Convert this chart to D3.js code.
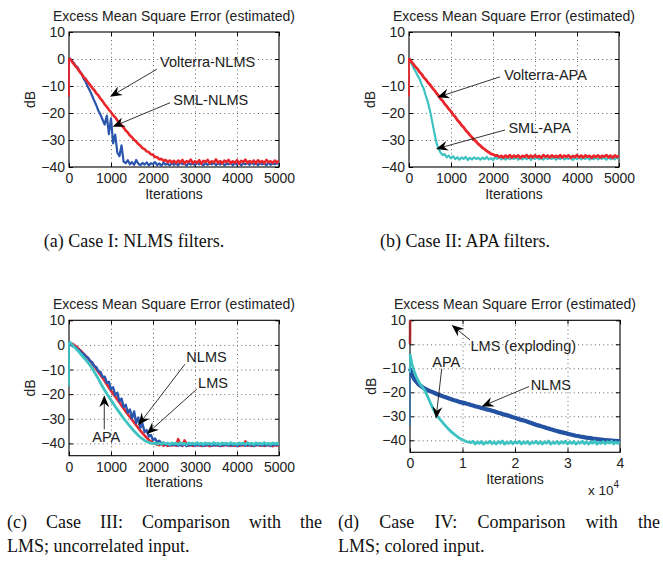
<!DOCTYPE html>
<html><head><meta charset="utf-8">
<script src="https://cdn.jsdelivr.net/npm/d3@7"></script>
<style>body{margin:0;background:#fff}svg{display:block}</style>
</head><body>
<svg id="chart" width="663" height="566"></svg>
<script>
// ---------------- DATA ----------------
// sample iterations (first entry is the initial sample at iteration 0)
const iterA = [0].concat(d3.range(0, 5001, 50));
const iterD = [0].concat(d3.range(0, 40001, 400));
const xTicks5000 = [0, 1000, 2000, 3000, 4000, 5000];
const xTicks4e4 = [0, 10000, 20000, 30000, 40000];
const xTickLabels4e4 = ["0", "1", "2", "3", "4"];
const yTicks = [10, 0, -10, -20, -30, -40];
const titleText = "Excess Mean Square Error (estimated)";
const xLabel = "Iterations";
const yLabel = "dB";

// (a) Case I
const volterraNLMS = [-14,
 0.3,-0.5,-1.6,-2.6,-3.4,-4.6,-5.6,-6.7,-7.5,-8.6,
 -9.6,-10.6,-11.5,-12.7,-13.5,-14.7,-15.6,-16.8,-17.7,-18.8,
 -19.7,-20.8,-21.6,-22.7,-23.5,-24.6,-25.4,-26.5,-27.2,-28.3,
 -29.0,-29.9,-30.6,-31.5,-32.1,-33.0,-33.4,-34.2,-34.5,-35.3,
 -35.5,-36.3,-36.4,-37.1,-37.0,-37.7,-37.4,-38.2,-37.6,-38.4,
 -37.7,-38.5,-37.6,-38.3,-37.4,-38.7,-37.8,-38.2,-37.3,-38.6,
 -37.9,-38.4,-37.5,-38.8,-37.7,-38.1,-37.4,-38.6,-37.9,-38.3,
 -37.2,-38.5,-37.8,-38.7,-37.6,-38.2,-37.4,-38.6,-37.9,-38.4,
 -37.5,-38.8,-37.7,-38.2,-37.3,-38.5,-37.8,-38.4,-37.6,-38.7,
 -37.5,-38.3,-37.8,-38.6,-37.4,-38.2,-37.9,-38.5,-37.6,-38.4,
 -37.7];
const smlNLMS = [-14,
 0.5,-0.3,-1.2,-2.3,-3.0,-4.4,-5.5,-7.3,-8.6,-10.4,
 -11.8,-13.6,-15.4,-17.1,-19.2,-20.6,-22.5,-24.3,-21.0,-27.8,
 -22.0,-31.3,-28.0,-34.6,-36.0,-32.0,-38.0,-38.6,-37.5,-39.0,
 -38.2,-39.2,-37.4,-38.8,-39.3,-38.5,-39.1,-38.3,-39.4,-38.6,
 -39.0,-38.2,-39.3,-38.7,-39.5,-38.4,-39.1,-38.8,-39.4,-38.5,
 -39.2,-38.6,-39.4,-38.3,-39.0,-38.7,-39.5,-38.5,-39.1,-38.8,
 -39.3,-38.4,-39.0,-38.6,-39.4,-38.5,-39.2,-38.7,-39.0,-38.4,
 -39.3,-38.6,-39.1,-38.3,-39.4,-38.8,-39.0,-38.5,-39.3,-38.6,
 -39.1,-38.4,-39.4,-38.7,-39.0,-38.5,-39.2,-38.3,-39.1,-38.7,
 -39.3,-38.5,-39.0,-38.6,-39.4,-38.4,-39.2,-38.7,-39.0,-38.5,
 -39.1];

// (b) Case II
const volterraAPA = [-14,
 0.3,-0.9,-1.8,-2.9,-3.6,-4.8,-5.6,-6.8,-7.6,-8.7,
 -9.5,-10.6,-11.5,-12.6,-13.5,-14.7,-15.5,-16.7,-17.5,-18.6,
 -19.4,-20.6,-21.4,-22.6,-23.4,-24.5,-25.3,-26.4,-27.2,-28.2,
 -29.0,-29.9,-30.6,-31.5,-32.1,-32.9,-33.4,-34.1,-34.5,-35.1,
 -35.3,-35.8,-35.7,-36.3,-35.9,-36.5,-35.8,-36.4,-35.6,-36.5,
 -35.8,-36.3,-35.7,-36.6,-35.9,-36.2,-35.6,-36.5,-35.8,-36.4,
 -35.7,-36.3,-35.9,-36.6,-35.6,-36.2,-35.8,-36.5,-35.7,-36.3,
 -35.9,-36.4,-35.6,-36.5,-35.8,-36.2,-35.7,-36.6,-35.9,-36.3,
 -35.6,-36.4,-35.8,-36.5,-35.7,-36.2,-35.9,-36.6,-35.8,-36.3,
 -35.7,-36.5,-35.9,-36.2,-35.6,-36.4,-35.8,-36.6,-35.7,-36.3,
 -35.9];
const smlAPA = [-14,
 0.3,-1.5,-3.0,-4.4,-6.0,-7.4,-9.3,-11.0,-13.6,-16.0,
 -19.2,-23.0,-27.0,-30.8,-33.2,-34.6,-35.6,-35.2,-36.4,-35.8,
 -36.8,-36.0,-37.1,-36.4,-37.3,-36.5,-37.0,-36.3,-37.4,-36.6,
 -37.2,-36.4,-37.0,-36.6,-37.3,-36.5,-37.1,-36.3,-37.2,-36.7,
 -37.4,-36.5,-37.0,-36.4,-37.2,-36.6,-37.3,-36.5,-37.1,-36.7,
 -37.0,-36.4,-37.3,-36.6,-37.2,-36.5,-37.1,-36.3,-37.4,-36.6,
 -37.0,-36.5,-37.2,-36.7,-37.3,-36.4,-37.1,-36.6,-37.0,-36.5,
 -37.3,-36.6,-37.1,-36.4,-37.2,-36.7,-37.0,-36.5,-37.4,-36.6,
 -37.1,-36.3,-37.2,-36.6,-37.0,-36.5,-37.3,-36.7,-37.1,-36.4,
 -37.2,-36.6,-37.0,-36.5,-37.3,-36.4,-37.1,-36.7,-37.2,-36.5,
 -37.0];

// (c) Case III
const lmsC = [-17,
 1.0,0.7,0.2,-0.4,-1.1,-1.9,-2.7,-3.6,-4.5,-5.4,
 -6.4,-7.5,-8.6,-9.8,-11.0,-12.2,-13.4,-14.7,-16.0,-17.3,
 -18.6,-19.8,-21.0,-22.2,-23.4,-24.6,-25.8,-27.0,-28.2,-29.3,
 -30.4,-31.5,-32.6,-33.7,-34.8,-35.8,-36.8,-37.7,-38.5,-39.2,
 -39.8,-40.2,-40.5,-40.7,-40.4,-40.9,-40.5,-41.0,-40.6,-40.8,
 -40.4,-40.9,-38.3,-40.6,-41.0,-38.8,-40.5,-40.9,-40.6,-41.0,
 -40.5,-40.8,-40.4,-41.0,-40.6,-40.9,-40.5,-41.1,-40.6,-40.8,
 -40.4,-40.9,-40.6,-41.0,-40.5,-40.8,-40.4,-41.0,-40.7,-40.9,
 -40.5,-41.0,-40.6,-40.8,-39.2,-40.9,-40.5,-41.0,-40.6,-40.8,
 -40.4,-40.9,-40.6,-41.0,-40.5,-40.8,-40.6,-41.1,-40.5,-40.9,
 -40.6];
const nlmsC = [-15,
 0.5,0.0,-0.6,-0.9,-1.8,-2.1,-3.3,-3.6,-4.9,-5.2,
 -6.6,-7.0,-8.6,-9.0,-10.8,-11.0,-13.0,-12.9,-15.4,-15.0,
 -18.0,-17.2,-20.4,-19.4,-22.9,-21.8,-25.2,-24.3,-27.6,-26.2,
 -29.8,-27.0,-31.8,-29.5,-33.6,-32.0,-35.4,-34.6,-37.2,-36.6,
 -38.6,-38.0,-39.6,-38.9,-40.2,-39.6,-40.6,-40.0,-40.9,-40.3,
 -40.8,-40.2,-41.0,-40.4,-40.9,-40.3,-41.1,-40.5,-40.8,-40.2,
 -41.0,-40.4,-40.9,-40.3,-41.1,-40.5,-40.8,-40.2,-41.0,-40.4,
 -40.9,-40.3,-41.1,-40.5,-40.8,-40.2,-41.0,-40.4,-40.9,-40.3,
 -41.1,-40.5,-40.8,-40.2,-41.0,-40.4,-40.9,-40.3,-41.1,-40.5,
 -40.8,-40.2,-41.0,-40.4,-40.9,-40.3,-41.1,-40.5,-40.8,-40.2,
 -40.9];
const apaC = [-17,
 1.3,0.6,-0.3,-1.2,-2.1,-3.1,-4.1,-5.1,-6.1,-7.1,
 -8.2,-9.4,-10.9,-12.3,-13.8,-15.4,-17.0,-18.4,-19.8,-21.1,
 -22.4,-23.7,-25.0,-26.2,-27.4,-28.6,-29.8,-30.9,-32.0,-33.0,
 -34.0,-35.0,-35.9,-36.8,-37.5,-38.2,-38.8,-39.2,-39.6,-39.9,
 -40.1,-39.8,-40.3,-39.9,-40.4,-39.7,-40.2,-39.9,-40.5,-39.8,
 -40.2,-39.9,-40.4,-39.7,-40.3,-40.0,-40.5,-39.8,-40.2,-39.9,
 -40.4,-39.7,-40.3,-39.9,-40.5,-39.8,-40.2,-40.0,-40.4,-39.7,
 -40.3,-39.9,-40.5,-39.8,-40.2,-39.9,-40.4,-39.7,-40.3,-40.0,
 -40.5,-39.8,-40.2,-39.9,-40.4,-39.7,-40.3,-39.9,-40.5,-39.8,
 -40.2,-40.0,-40.4,-39.7,-40.3,-39.9,-40.5,-39.8,-40.2,-39.9,
 -40.3];

// (d) Case IV
const lmsDIter = [0, 400];
const lmsD = [0, 200]; // exploding
const apaD = [-12,
 -4.0,-8.5,-11.2,-13.6,-15.3,-16.8,-18.0,-19.2,-21.0,-23.0,
 -25.0,-26.8,-28.5,-29.9,-31.0,-32.0,-33.1,-34.0,-35.0,-35.9,
 -36.7,-37.4,-38.1,-38.8,-39.3,-39.8,-40.2,-40.6,-40.8,-41.0,
 -40.4,-41.5,-40.7,-41.3,-40.5,-41.6,-40.8,-41.2,-40.4,-41.4,
 -40.7,-41.5,-40.6,-41.2,-40.3,-41.6,-40.8,-41.3,-40.5,-41.4,
 -40.6,-41.2,-40.4,-41.5,-40.7,-41.3,-40.5,-41.6,-40.8,-41.2,
 -40.4,-41.4,-40.6,-41.5,-40.7,-41.2,-40.3,-41.6,-40.8,-41.3,
 -40.5,-41.4,-40.6,-41.2,-40.4,-41.5,-40.7,-41.3,-40.5,-41.6,
 -40.8,-41.2,-40.4,-41.4,-40.6,-41.5,-40.7,-41.2,-40.3,-41.6,
 -40.8,-41.3,-40.5,-41.4,-40.6,-41.2,-40.4,-41.5,-40.7,-41.3,
 -40.6];
const nlmsD = [-34,
 -10.0,-12.8,-14.5,-15.6,-16.6,-17.3,-17.9,-18.4,-18.9,-19.3,
 -19.7,-20.0,-20.4,-20.8,-21.1,-21.4,-21.8,-22.1,-22.4,-22.7,
 -23.0,-23.3,-23.5,-23.8,-24.1,-24.3,-24.5,-24.8,-25.0,-25.3,
 -25.5,-25.8,-26.0,-26.2,-26.5,-26.7,-27.0,-27.2,-27.4,-27.7,
 -27.9,-28.2,-28.5,-28.7,-29.0,-29.3,-29.5,-29.8,-30.1,-30.4,
 -30.6,-30.9,-31.2,-31.5,-31.7,-32.0,-32.3,-32.6,-32.9,-33.2,
 -33.5,-33.8,-34.0,-34.3,-34.6,-34.9,-35.1,-35.4,-35.6,-35.9,
 -36.1,-36.4,-36.6,-36.8,-37.0,-37.3,-37.5,-37.7,-37.9,-38.1,
 -38.2,-38.4,-38.6,-38.7,-38.9,-39.0,-39.1,-39.3,-39.4,-39.5,
 -39.6,-39.7,-39.8,-39.9,-40.0,-40.0,-40.1,-40.2,-40.2,-40.3,
 -40.3];

// annotations (text anchor + arrow start + arrow tip, in data units)
const notesA = [
 {text:"Volterra-NLMS", tx:3300, ty:-2.8, sx:2090, sy:-3.8, hx:976, hy:-14.0},
 {text:"SML-NLMS", tx:3375, ty:-17.0, sx:2405, sy:-16.2, hx:1040, hy:-25.1}];
const notesB = [
 {text:"Volterra-APA", tx:3250, ty:-7.8, sx:2167, sy:-6.6, hx:674, hy:-14.2},
 {text:"SML-APA", tx:3112, ty:-27.4, sx:2286, sy:-26.3, hx:643, hy:-33.3}];
const notesC = [
 {text:"NLMS", tx:3274, ty:-6.8, sx:2762, sy:-7.8, hx:1650, hy:-32.6},
 {text:"LMS", tx:3429, ty:-17.5, sx:3040, sy:-18.0, hx:1850, hy:-36.2},
 {text:"APA", tx:888, ty:-39.3, sx:840, sy:-34.3, hx:840, hy:-20.4}];
const notesD = [
 {text:"LMS (exploding)", tx:21581, ty:-2.7, sx:11429, sy:1.8, hx:7943, hy:8.0},
 {text:"APA", tx:6914, ty:-9.3, sx:6038, sy:-10.2, hx:4952, hy:-31.0},
 {text:"NLMS", tx:26819, ty:-19.2, sx:22667, sy:-17.6, hx:13657, hy:-25.9}];

const captionA = "(a) Case I: NLMS filters.";
const captionB = "(b) Case II: APA filters.";
const captionC = ["(c) Case III: Comparison with the", "LMS; uncorrelated input."];
const captionD = ["(d) Case IV: Comparison with the", "LMS; colored input."];

// ---------------- STYLE / LAYOUT ----------------
const SANS = '"Liberation Sans", Arial, Helvetica, sans-serif';
const SERIF = '"Liberation Serif", "Times New Roman", serif';
const RED = "#e8262b", BLUE = "#2b56ad", CYAN = "#3ec2c2", DBLUE = "#2452a3", DRED = "#a3282c", SBLUE = "#3f74a8";

const panels = [
 {key:"a", box:{x0:69,y0:32,x1:279,y1:167}, xDom:[0,5000], yDom:[-40,10], xTicks:xTicks5000, xFmt:d3.format("d"),
  series:[{it:iterA, v:smlNLMS, c:BLUE, w:2.2},{it:iterA, v:volterraNLMS, c:RED, w:2.6}], notes:notesA},
 {key:"b", box:{x0:409,y0:32,x1:619,y1:167}, xDom:[0,5000], yDom:[-40,10], xTicks:xTicks5000, xFmt:d3.format("d"),
  series:[{it:iterA, v:smlAPA, c:CYAN, w:2.2},{it:iterA, v:volterraAPA, c:RED, w:2.8}], notes:notesB},
 {key:"c", box:{x0:69,y0:320.3,x1:279,y1:455.7}, xDom:[0,5000], yDom:[-45,10], xTicks:xTicks5000, xFmt:d3.format("d"),
  series:[{it:iterA, v:lmsC, c:RED, w:2.6},{it:iterA, v:nlmsC, c:BLUE, w:2.4},{it:iterA, v:apaC, c:CYAN, w:2.8}], notes:notesC},
 {key:"d", box:{x0:410,y0:320.3,x1:620,y1:452.3}, xDom:[0,40000], yDom:[-45,10], xTicks:xTicks4e4,
  xFmt:(d,i)=>xTickLabels4e4[i], exponent:true,
  series:[{it:iterD, v:nlmsD, c:DBLUE, w:4.2, dipColor:SBLUE},{it:iterD, v:apaD, c:CYAN, w:2.8},{it:lmsDIter, v:lmsD, c:DRED, w:2.5, noDip:true}], notes:notesD}
];

const svg = d3.select("#chart");
const defs = svg.append("defs");

function drawPanel(p){
  const B = p.box;
  const x = d3.scaleLinear().domain(p.xDom).range([B.x0, B.x1]);
  const y = d3.scaleLinear().domain(p.yDom).range([B.y1, B.y0]);
  const g = svg.append("g").attr("class","panel-"+p.key);
  const H = B.y1 - B.y0, W = B.x1 - B.x0;

  // dotted grid
  const gx = p.xTicks.filter(t => t > p.xDom[0] && t < p.xDom[1]);
  const gy = yTicks.filter(t => t > p.yDom[0] && t < p.yDom[1]);
  g.append("g").attr("transform",`translate(0,${B.y1})`)
    .call(d3.axisBottom(x).tickValues(gx).tickSize(-H).tickFormat(""))
    .call(s => { s.select(".domain").remove();
      s.selectAll("line").attr("stroke","#555").attr("stroke-width",0.9).attr("stroke-dasharray","1,3.2"); });
  g.append("g").attr("transform",`translate(${B.x0},0)`)
    .call(d3.axisLeft(y).tickValues(gy).tickSize(-W).tickFormat(""))
    .call(s => { s.select(".domain").remove();
      s.selectAll("line").attr("stroke","#555").attr("stroke-width",0.9).attr("stroke-dasharray","1,3.2"); });

  // box
  g.append("rect").attr("x",B.x0).attr("y",B.y0).attr("width",W).attr("height",H)
    .attr("fill","none").attr("stroke","#000").attr("stroke-width",1.1);

  // axes with inward ticks
  const axStyle = s => { s.select(".domain").remove();
    s.selectAll("line").attr("stroke","#000").attr("stroke-width",1);
    s.selectAll("text").attr("font-family",SANS).attr("font-size","14px").attr("fill","#222"); };
  g.append("g").attr("transform",`translate(0,${B.y1})`)
    .call(d3.axisBottom(x).tickValues(p.xTicks).tickSizeInner(-4).tickSizeOuter(0).tickPadding(6).tickFormat(p.xFmt)).call(axStyle);
  g.append("g").attr("transform",`translate(0,${B.y0})`)
    .call(d3.axisTop(x).tickValues(p.xTicks).tickSizeInner(-4).tickSizeOuter(0).tickFormat("")).call(axStyle);
  g.append("g").attr("transform",`translate(${B.x0},0)`)
    .call(d3.axisLeft(y).tickValues(yTicks).tickSizeInner(-4).tickSizeOuter(0).tickPadding(4).tickFormat(d3.format("d"))).call(axStyle);
  g.append("g").attr("transform",`translate(${B.x1},0)`)
    .call(d3.axisRight(y).tickValues(yTicks).tickSizeInner(-4).tickSizeOuter(0).tickFormat("")).call(axStyle);

  // series: the initial-sample segment is drawn thin, the rest at full width
  const clipId = "clip-" + p.key;
  defs.append("clipPath").attr("id",clipId).append("rect")
    .attr("x",B.x0-2).attr("y",B.y0).attr("width",W+2).attr("height",H);
  const sg = g.append("g").attr("clip-path",`url(#${clipId})`);
  p.series.forEach(s => {
    const line = d3.line().x(d => x(d[0])).y(d => y(d[1]));
    const pts = s.v.map((v,i) => [s.it[i], v]);
    if (s.noDip) {
      sg.append("path").attr("d", line(pts)).attr("fill","none")
        .attr("stroke", s.c).attr("stroke-width", s.w);
      return;
    }
    sg.append("path").attr("d", line(pts.slice(0,2))).attr("fill","none")
      .attr("stroke", s.dipColor || s.c).attr("stroke-width", 1.8);
    sg.append("path").attr("d", line(pts.slice(1))).attr("fill","none")
      .attr("stroke", s.c).attr("stroke-width", s.w).attr("stroke-linejoin","round");
  });

  // labels
  g.append("text").attr("x",(B.x0+B.x1)/2).attr("y",B.y0-11).attr("text-anchor","middle")
    .attr("font-family",SANS).attr("font-size","14px").attr("fill","#222").text(titleText);
  g.append("text").attr("x",(B.x0+B.x1)/2).attr("y",B.y1+31.5).attr("text-anchor","middle")
    .attr("font-family",SANS).attr("font-size","14px").attr("fill","#222").text(xLabel);
  g.append("text").attr("transform",`translate(${B.x0-38},${(B.y0+B.y1)/2}) rotate(-90)`)
    .attr("text-anchor","middle").attr("dominant-baseline","middle").attr("font-family",SANS).attr("font-size","14px").attr("fill","#222").text(yLabel);
  if (p.exponent){
    const t = g.append("text").attr("x",B.x1-1).attr("y",B.y1+43).attr("text-anchor","end")
      .attr("font-family",SANS).attr("font-size","13.5px").attr("fill","#222");
    t.append("tspan").text("x 10");
    t.append("tspan").attr("dy",-7).attr("font-size","10px").text("4");
  }

  // annotations
  p.notes.forEach(n => {
    const x1 = x(n.sx), y1 = y(n.sy), x2 = x(n.hx), y2 = y(n.hy);
    const ang = Math.atan2(y2-y1, x2-x1);
    const L = 12, hw = 5, back = 8;
    g.append("line").attr("x1",x1).attr("y1",y1)
      .attr("x2",x2 - Math.cos(ang)*back).attr("y2",y2 - Math.sin(ang)*back)
      .attr("stroke","#000").attr("stroke-width",0.8);
    g.append("path").attr("d",`M0,0L${-L},${-hw}L${-back},0L${-L},${hw}Z`)
      .attr("transform",`translate(${x2},${y2}) rotate(${ang*180/Math.PI})`).attr("fill","#000");
    g.append("text").attr("x",x(n.tx)).attr("y",y(n.ty)).attr("text-anchor","middle")
      .attr("font-family",SANS).attr("font-size","14.5px").attr("fill","#222").text(n.text);
  });
}
panels.forEach(drawPanel);

// captions
const CAP = "18px";
function caption(txt, x, yb, anchor){
  svg.append("text").attr("x",x).attr("y",yb).attr("text-anchor",anchor||"start").attr("font-family",SERIF).attr("font-size",CAP)
    .attr("fill","#111").text(txt);
}
function justified(txt, x0, x1, yb){
  const words = txt.split(" ");
  const tmp = words.map(w => svg.append("text").attr("font-family",SERIF).attr("font-size",CAP).attr("fill","#111").text(w));
  const widths = tmp.map(t => t.node().getComputedTextLength());
  const gap = ((x1 - x0) - d3.sum(widths)) / (words.length - 1);
  let cx = x0;
  tmp.forEach((t,i) => { t.attr("x",cx).attr("y",yb); cx += widths[i] + gap; });
}
caption(captionA, 134, 247, "middle");
caption(captionB, 465, 247, "middle");
justified(captionC[0], 7, 322, 528);
caption(captionC[1], 7, 552);
justified(captionD[0], 338, 660, 528);
caption(captionD[1], 338, 552);
</script>
</body></html>
